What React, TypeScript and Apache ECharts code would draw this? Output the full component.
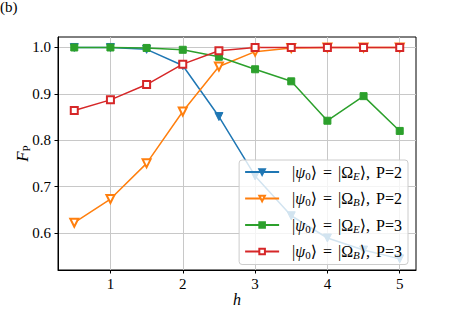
import React, { useEffect, useRef } from "react";
import * as echarts from "echarts";

const hValues = [0.5, 1, 1.5, 2, 2.5, 3, 3.5, 4, 4.5, 5];
const fE2 = [1.0, 1.0, 0.996, 0.961, 0.851, 0.723, 0.637, 0.589, 0.563, 0.544];
const fB2 = [0.622, 0.673, 0.75, 0.862, 0.959, 0.991, 0.999, 1.0, 1.0, 1.0];
const fE3 = [1.0, 1.0, 0.999, 0.995, 0.98, 0.953, 0.927, 0.842, 0.895, 0.82];
const fB3 = [0.864, 0.887, 0.92, 0.964, 0.993, 1.0, 1.0, 1.0, 1.0, 1.0];
const xTicks = [1, 2, 3, 4, 5];
const yTicks = [0.6, 0.7, 0.8, 0.9, 1.0];
const seriesNames = ["E2", "B2", "E3", "B3"];
const stateLetters = ["E", "B", "E", "B"];
const pValues = [2, 2, 3, 3];

const FONT = "'Liberation Serif', 'DejaVu Serif', serif";

export default function App() {
  const ref = useRef<HTMLDivElement>(null);
  useEffect(() => {
    if (!ref.current) return;
    const chart = echarts.init(ref.current, undefined, { renderer: "svg" });
    const pair = (ys: number[]) => hValues.map((h, i) => [h, ys[i]]);
    const colors = ["#1f77b4", "#ff7f0e", "#2ca02c", "#d62728"];
    const symbols = ["triangle", "emptyTriangle", "rect", "emptyRect"];
    const sizes = [8, 8, 7, 7];
    const rotates = [180, 180, 0, 0];
    const datas = [fE2, fB2, fE3, fB3];
    const base = { fontFamily: FONT, fontSize: 16, color: "#000", lineHeight: 18 };
    const option: any = {
      animation: false,
      color: colors,
      grid: {
        left: 58,
        right: 47,
        top: 37,
        bottom: 39,
        show: true,
        borderColor: "#000",
        borderWidth: 1,
        backgroundColor: "transparent",
      },
      xAxis: {
        type: "value",
        min: 0.275,
        max: 5.225,
        axisLine: { show: true, lineStyle: { color: "#000", width: 1 } },
        axisTick: { show: true, length: 3.5, lineStyle: { color: "#000" }, customValues: xTicks },
        axisLabel: {
          customValues: xTicks,
          color: "#000",
          fontFamily: FONT,
          fontSize: 15,
          margin: 6,
          formatter: (v: number) => String(v),
        },
        splitLine: { show: true, lineStyle: { color: "#c8c8c8", width: 1 } },
      },
      yAxis: {
        type: "value",
        min: 0.52,
        max: 1.0226,
        axisLine: { show: true, lineStyle: { color: "#000", width: 1 } },
        axisTick: { show: true, length: 3.5, lineStyle: { color: "#000" }, customValues: yTicks },
        axisLabel: {
          customValues: yTicks,
          color: "#000",
          fontFamily: FONT,
          fontSize: 15,
          margin: 7,
          formatter: (v: number) => v.toFixed(1),
        },
        splitLine: { show: true, lineStyle: { color: "#c8c8c8", width: 1 } },
      },
      legend: {
        orient: "vertical",
        right: 55,
        top: 160,
        itemWidth: 34,
        itemHeight: 7,
        itemGap: 8.5,
        padding: [3, 6, 4, 5],
        backgroundColor: "rgba(255,255,255,0.8)",
        borderColor: "#cccccc",
        borderWidth: 1,
        borderRadius: 3,
        data: seriesNames,
        formatter: (name: string) => {
          const i = seriesNames.indexOf(name);
          return `{g| }{n||}{i|ψ}{s|0}{n|⟩}{w| }{n|=}{w| }{n||Ω}{si|${stateLetters[i]}}{n|⟩,}{w| }{n|P=${pValues[i]}}`;
        },
        textStyle: {
          ...base,
          rich: {
            g: { width: 8, fontSize: 16, lineHeight: 18 },
            w: { width: 6, fontSize: 16, lineHeight: 18 },
            n: { ...base },
            i: { ...base, fontStyle: "italic" },
            s: { fontFamily: FONT, fontSize: 11, color: "#000", lineHeight: 10, verticalAlign: "bottom" },
            si: { fontFamily: FONT, fontSize: 11, fontStyle: "italic", color: "#000", lineHeight: 10, verticalAlign: "bottom" },
          },
        },
      },
      graphic: [
        {
          type: "text",
          left: 0,
          top: -1,
          style: { text: "(b)", fontFamily: FONT, fontSize: 15, fill: "#000" },
        },
        {
          type: "text",
          x: 237,
          y: 299,
          style: {
            text: "h",
            fontFamily: FONT,
            fontSize: 16,
            fontStyle: "italic",
            fill: "#000",
            align: "center",
            verticalAlign: "middle",
          },
        },
        {
          type: "text",
          x: 22,
          y: 153.5,
          rotation: Math.PI / 2,
          style: {
            text: "{f|F}{s|P}",
            align: "center",
            verticalAlign: "middle",
            rich: {
              f: { fontFamily: FONT, fontSize: 17, fontStyle: "italic", fill: "#000", lineHeight: 18 },
              s: { fontFamily: FONT, fontSize: 11, fill: "#000", lineHeight: 10, verticalAlign: "bottom" },
            },
          },
        },
      ],
      series: seriesNames.map((name, i) => ({
        name,
        type: "line",
        data: pair(datas[i]),
        symbol: symbols[i],
        symbolSize: sizes[i],
        symbolRotate: rotates[i],
        showAllSymbol: true,
        lineStyle: { width: 1.5, color: colors[i] },
        itemStyle: { color: colors[i], borderColor: colors[i], borderWidth: 1 },
        emphasis: { disabled: true },
      })),
    };
    chart.setOption(option);
    return () => chart.dispose();
  }, []);
  return (
    <div
      ref={ref}
      style={{ position: "absolute", left: 0, top: 0, width: 463, height: 309 }}
    />
  );
}
